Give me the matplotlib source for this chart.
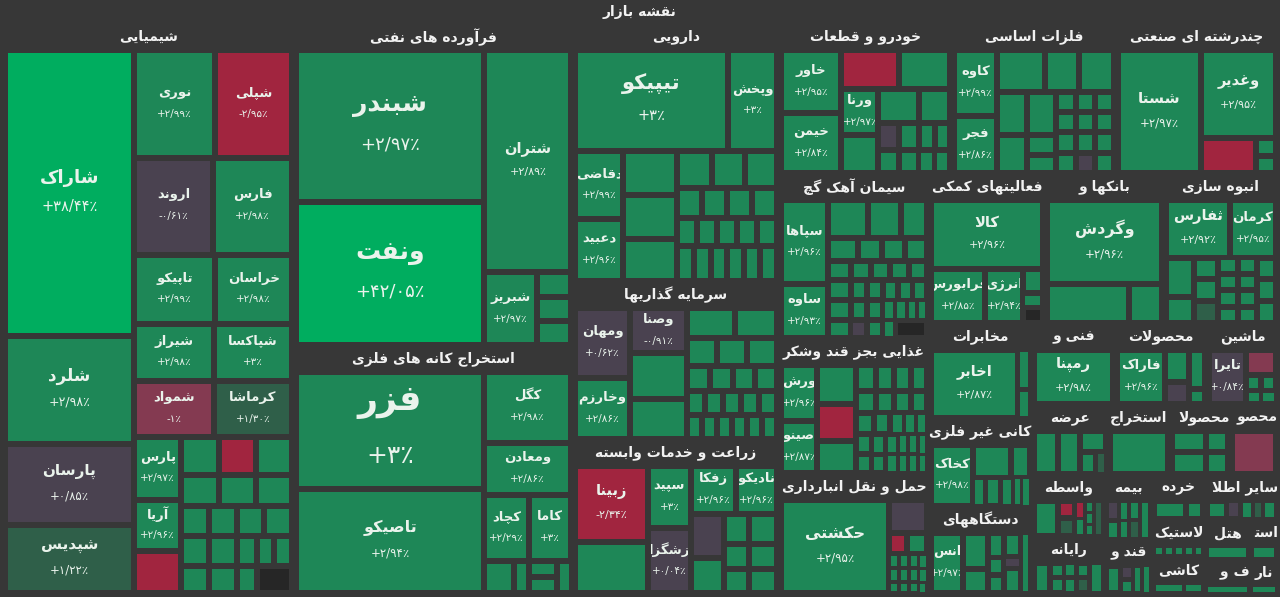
import matplotlib
matplotlib.use("Agg")
import matplotlib.pyplot as plt
from matplotlib.patches import Rectangle

BG = "#373737"
HDR = 26

# change values used for the small unlabelled tiles
G, R, P, D, M, X = 2.9, -2.9, 0.3, 1.2, -1.5, None


def H(*kids):
    return ("h", kids)


def V(*kids):
    return ("v", kids)


def S(title, size, body):
    return ("s", title, size, body)


def gh(*sizes):
    return H(*[(s, G) for s in sizes])


def gv(*sizes):
    return V(*[(s, G) for s in sizes])


# ---- data: (size, change %, symbol) ----
chem = S("شیمیایی", 1659, H(
    V((375, 38.44, "شاراک"), (141, 2.98, "شلرد"), (106, 0.85, "پارسان"), (89, 1.22, "شپدیس")),
    V(H((89, 2.99, "نوری"), (84, -2.95, "شپلی")),
      H((78, -0.61, "اروند"), (78, 2.98, "فارس")),
      H((57, 2.99, "تاپیکو"), (54, 2.98, "خراسان")),
      H((46, 2.98, "شیراز"), (45, 3, "شپاکسا")),
      H((46, -1, "شمواد"), (45, 1.30, "کرماشا")),
      H(V((30, 2.97, "پارس"), (25, 2.96, "آریا"), (20, R)),
        V(H((14.4, G), (14, R), (14, G)),
          gh(12, 11.5, 11.5),
          gh(8.4, 8.4, 8.4, 8.4),
          gh(8.4, 8.4, 6, 5.4, 5.4),
          H((7.6, G), (7.6, G), (5.4, G), (9.7, X)))))))

oil = S("فرآورده های نفتی", 898, H(
    V((288, 2.97, "شبندر"), (271, 42.05, "ونفت")),
    V((194, 2.89, "شتران"),
      H((38, 2.97, "شبریز"), gv(8.4, 8.4, 8.4)))))

mining = S("استخراج کانه های فلزی", 692, H(
    V((222, 3, "فزر"), (196, 2.94, "تاصیکو")),
    V((62, 2.98, "کگل"), (46, 2.86, "ومعادن"),
      H((30, 2.29, "کچاد"), (28, 3, "کاما")),
      H((9.6, G), (4.8, G), gv(4.5, 4.5), (4.5, G)))))

pharma = S("دارویی", 531, V(
    H((155, 3, "تیپیکو"), (49.5, 3, "وپخش")),
    H(V((33, 2.99, "دقاضی"), (30, 2.96, "دعبید")),
      gv(24, 24, 23),
      V(gh(13, 12.5, 12), gh(7.5, 7.5, 7.5, 7.5), gh(5.6, 5.6, 5.6, 5.6, 5.6),
        gh(5.8, 5.8, 5.8, 5.8, 5.8, 5.8)))))

invest = S("سرمایه گذاریها", 325, H(
    V((39, 0.62, "ومهان"), (33.5, 2.86, "وخارزم")),
    V((26, -0.91, "وصنا"), (26, G), (23, G)),
    V(gh(14.4, 12.6), gh(8.4, 8.4, 8.4), gh(6, 6, 5.7, 5.7),
      gh(4.3, 4.3, 4.3, 4.3, 4.3), gh(3.6, 3.6, 3.6, 3.6, 3.6, 3.6))))

agri = S("زراعت و خدمات وابسته", 317, H(
    V((56, -2.34, "زبینا"), (37, G)),
    V((27, 3, "سپید"), (28, 0.04, "زشگزا")),
    V(H((22, 2.96, "زفکا"), (20, 2.96, "نادیکو")),
      H(V((14.5, P), (11.6, G)), gv(7.5, 6.25, 6), gv(8.4, 7, 6.7)))))

auto = S("خودرو و قطعات", 259.5, H(
    V((38.4, 2.95, "خاور"), (36, 2.84, "خیمن")),
    V(H((22.2, R), (19.9, G)),
      H(V((17.4, 2.97, "ورنا"), (14, G)),
        V(gh(14, 10.9), H((5.4, P), (5.4, G), (4.3, G), (4, G)), gh(4.6, 4.6, 3.7, 3.5))))))

metals = S("فلزات اساسی", 246, H(
    V((28.8, 2.99, "کاوه"), (24.5, 2.86, "فجر")),
    V(gh(20.2, 14.3, 14.7),
      H(gv(13.2, 11.4), gv(12.8, 5.8, 5.2), gv(4.1, 4.1, 4.1, 4.1),
        V((3.9, G), (3.9, G), (3.9, G), (3.9, P)), gv(3.9, 3.9, 3.9, 3.9)))))

multi = S("چندرشته ای صنعتی", 243, H(
    (103, 2.97, "شستا"),
    V((66.8, 2.95, "وغدیر"), H((19.3, R), gv(3.5, 3.5)))))

cement = S("سیمان آهک گچ", 247.5, H(
    V((40, 2.96, "سپاها"), (25.4, 2.93, "ساوه")),
    V(gh(15.2, 12.5, 9.9), gh(6.9, 5.5, 5.3, 5.1), gh(4.6, 4, 3.8, 3.8, 3.6),
      gh(4.6, 3.2, 3.2, 3, 3, 2.8), gh(4.6, 3.2, 3.2, 2.4, 2.4, 2, 2),
      H((4.1, G), (2.9, P), (2.9, G), (2.2, G), (5.8, X)))))

food = S("غذایی بجز قند وشکر", 202.5, H(
    V((20.5, 2.96, "ورش"), (18.7, 2.87, "صینو")),
    V((15.2, G), (14.8, R), (12.5, G)),
    V(gh(5.2, 4.7, 4.4, 4.2), gh(4.4, 4, 3.7, 3.5), gh(4, 3.5, 3.1, 2.6, 2.4),
      gh(3.2, 2.8, 2.4, 2, 2, 1.8), gh(3, 2.7, 2.3, 1.9, 1.9, 1.7))))

transport = S("حمل و نقل انبارداری", 180, H(
    (101.5, 2.95, "حکشتی"),
    V((12.5, P), H((4, R), (4.4, G)), gh(1.4, 1.4, 1.4, 1.1), gh(1.4, 1.4, 1.4, 1.1),
      gh(1.1, 1.1, 1.1, 0.9))))

support = S("فعالیتهای کمکی", 174, V(
    (78.4, 2.96, "کالا"),
    H((29.2, 2.85, "فرابورس"), (20.5, 2.94, "انرژی"), V((4.8, G), (2.8, G), (3.2, X)))))

banks = S("بانکها و", 178.5, V((97.8, 2.96, "وگردش"), gh(32, 12.9)))

housing = S("انبوه سازی", 171, V(
    H((37.1, 2.92, "ثفارس"), (26.7, 2.95, "کرمان")),
    H(gv(11.2, 7.3), V((5.3, G), (5.3, G), (5.3, D)), gv(3.3, 3.3, 3.3, 3.3),
      gv(3.1, 3.1, 3.1, 3.1), gv(4.2, 4.2, 4.2))))

telecom = S("مخابرات", 97.9, H((60, 2.87, "اخابر"), gv(4.8, 3.5)))
nonmetal = S("کانی غیر فلزی", 90.6, H(
    (26, 2.98, "کخاک"), V(gh(12.5, 6.3), gh(3.5, 4.6, 3.5, 2.6, 2.3))))
devices = S("دستگاههای", 89.6, H(
    (19.5, 2.97, "انس"), gv(9.3, 6), gv(4, 2.9, 2.9), V((4.1, G), (2, P), (4.3, G)), gv(5.5)))

eng = S("فنی و", 67.2, (43.5, 2.98, "رمپنا"))
chemprod = S("محصولات", 74.5, H((26.4, 2.96, "فاراک"), V((7.9, G), (5.3, P)), gv(6.4, 2.4)))
machine = S("ماشین", 57.5, H((20.4, 0.84, "تایرا"), V((7.8, M), gh(2.25, 2.25), gh(2.1, 2.1))))

offer = S("عرضه", 53.2, H((10.6, G), (9.7, G), V((5.7, G), H((3.5, G), (2.2, D)))))
extract = S("استخراج", 43.4, (25.5, G))
prod2 = S("محصولات", 42, H(gv(7.5, 7.5), gv(4.8, 4.8)))
prod3 = S("محصولات", 33.6, (19.4, M))

broker = S("واسطه", 45.3, H((8.6, G), V((3.1, R), (3.1, D)), V((1.8, R), (1.8, G)),
                             gv(1.1, 1.1, 1.1), (3.2, D)))
computer = S("رایانه", 41.6, H((5, G), gv(2.1, 2.2), gv(1.8, 1.9), V((2.1, G), (2.2, D)), (4, G)))
insur = S("بیمه", 30.6, H(V((2.4, P), (2.3, G)), gv(2, 1.9), V((2.2, G), (2.1, D)), (3.9, G)))
sugar = S("قند و", 25.4, H((3.9, G), V((1.7, P), (1.7, G)), (2.5, G), (2.2, G)))
retail = S("خرده", 23.9, gh(6.1, 3.2))
tire = S("لاستیک", 19.6, gh(1.1, 1.1, 1.1, 1.1, 1.0))
ceramic = S("کاشی", 19.6, gh(3.3, 2.1))
other = S("سایر اطلاعات", 32.9, H((3.8, G), (2.7, P), (2.3, G), (1.9, D), (2.5, G)))
hotel = S("هتل", 18, (6, G))
oil2 = S("استخراج", 11.2, (3.4, G))
misc1 = S("ف و س", 15.3, (3.4, G))
misc2 = S("نار", 9.5, (1.9, G))

# ---- arrangement of the sectors ----
lower_right = H(
    V(telecom, nonmetal, devices),
    V(H(eng, chemprod, machine),
      H(offer, extract, prod2, prod3),
      H(V(broker, computer), V(insur, sugar), V(retail, tire, ceramic),
        V(other, H(V(hotel, misc1), V(oil2, misc2))))))
col4 = V(H(auto, metals, multi),
         H(V(cement, food, transport),
           V(H(support, banks, housing), lower_right)))
market = H(chem, V(oil, mining), V(pharma, invest, agri), col4)

LABEL_PT = {
    "شاراک": (13, 10.5), "شلرد": (12, 9), "شبندر": (18, 13), "ونفت": (18, 13),
    "فزر": (25, 18), "تیپیکو": (15, 10.5), "تاصیکو": (11.5, 8.5), "حکشتی": (11.5, 8.5),
    "وگردش": (11.5, 8.5), "شستا": (11, 8.5), "پارسان": (11, 8.5), "شپدیس": (11, 8.5),
    "زبینا": (10.5, 8), "شتران": (10.5, 8), "کالا": (10.5, 8), "اخابر": (10.5, 8),
    "رمپنا": (10.5, 8), "وغدیر": (10.5, 8), "ثفارس": (10.5, 8),
}

# ---- minimal Persian shaping (matplotlib draws glyphs left to right, unjoined) ----
_AR = {
    0x0621: (0xFE80, 1), 0x0622: (0xFE81, 2), 0x0623: (0xFE83, 2), 0x0624: (0xFE85, 2),
    0x0625: (0xFE87, 2), 0x0626: (0xFE89, 4), 0x0627: (0xFE8D, 2), 0x0628: (0xFE8F, 4),
    0x0629: (0xFE93, 2), 0x062A: (0xFE95, 4), 0x062B: (0xFE99, 4), 0x062C: (0xFE9D, 4),
    0x062D: (0xFEA1, 4), 0x062E: (0xFEA5, 4), 0x062F: (0xFEA9, 2), 0x0630: (0xFEAB, 2),
    0x0631: (0xFEAD, 2), 0x0632: (0xFEAF, 2), 0x0633: (0xFEB1, 4), 0x0634: (0xFEB5, 4),
    0x0635: (0xFEB9, 4), 0x0636: (0xFEBD, 4), 0x0637: (0xFEC1, 4), 0x0638: (0xFEC5, 4),
    0x0639: (0xFEC9, 4), 0x063A: (0xFECD, 4), 0x0641: (0xFED1, 4), 0x0642: (0xFED5, 4),
    0x0643: (0xFED9, 4), 0x0644: (0xFEDD, 4), 0x0645: (0xFEE1, 4), 0x0646: (0xFEE5, 4),
    0x0647: (0xFEE9, 4), 0x0648: (0xFEED, 2), 0x0649: (0xFEEF, 2), 0x064A: (0xFEF1, 4),
    0x067E: (0xFB56, 4), 0x0686: (0xFB7A, 4), 0x0698: (0xFB8A, 2), 0x06A9: (0xFB8E, 4),
    0x06AF: (0xFB92, 4), 0x06CC: (0xFBFC, 4),
}
_LAMALEF = {"ا": 0xFEFB, "آ": 0xFEF5, "أ": 0xFEF7, "إ": 0xFEF9}


def fa(s):
    out = []
    i, n = 0, len(s)
    while i < n:
        c = s[i]
        o = ord(c)
        if o not in _AR:
            out.append(c)
            i += 1
            continue
        base, k = _AR[o]
        prev = s[i - 1] if i > 0 else " "
        link_prev = ord(prev) in _AR and _AR[ord(prev)][1] == 4
        if c == "ل" and i + 1 < n and s[i + 1] in _LAMALEF:
            out.append(chr(_LAMALEF[s[i + 1]] + (1 if link_prev else 0)))
            i += 2
            continue
        nxt = s[i + 1] if i + 1 < n else " "
        link_next = k == 4 and ord(nxt) in _AR and _AR[ord(nxt)][1] > 1
        if k == 1:
            f = 0
        elif link_prev and link_next:
            f = 3
        elif link_prev:
            f = 1
        elif link_next:
            f = 2
        else:
            f = 0
        out.append(chr(base + f))
        i += 1
    return "".join(out).replace("\u200c", "")[::-1]


FA_DIGITS = str.maketrans("0123456789", "۰۱۲۳۴۵۶۷۸۹")


def pct(v):
    a = abs(v)
    s = f"{a:.0f}" if round(a, 2) == int(a) else f"{a:.2f}".replace(".", "/")
    return ("+" if v >= 0 else "-") + s.translate(FA_DIGITS) + "٪"


def tile_color(ch):
    if ch is None:
        return "#262626"
    if ch > 3.05:
        return "#00ad5f"
    if ch >= 2:
        return "#1e8757"
    if ch >= 1:
        return "#2f5f49"
    if ch > -1:
        return "#4a4250"
    if ch > -2:
        return "#843a51"
    return "#a1253f"


def weight(n):
    if n[0] in ("h", "v"):
        return sum(weight(k) for k in n[1])
    if n[0] == "s":
        return n[2]
    return n[0]


fig = plt.figure(figsize=(12.8, 5.97), dpi=100, facecolor=BG)
ax = fig.add_axes([0, 0, 1, 1])
ax.set_xlim(0, 1280)
ax.set_ylim(597, 0)
ax.axis("off")
ax.set_facecolor(BG)
renderer = fig.canvas.get_renderer()


def draw_tile(leaf, x0, y0, x1, y1):
    ch = leaf[1]
    name = leaf[2] if len(leaf) > 2 else ""
    w, h = x1 - x0, y1 - y0
    g = min(3, 0.18 * min(w, h))
    r = Rectangle((x0 + g, y0 + g), w - 2 * g, h - 2 * g, facecolor=tile_color(ch), edgecolor="none")
    ax.add_patch(r)
    if name:
        fn, fc = LABEL_PT.get(name, (9.5, 7.5))
        cx, cy = (x0 + x1) / 2, (y0 + y1) / 2
        k = (fn + fc) * 100 / 72
        t1 = ax.text(cx, cy - 0.48 * k, fa(name), fontsize=fn, fontweight="bold",
                     color="#eaf3ec", ha="center", va="center", clip_on=True)
        t2 = ax.text(cx, cy + 0.42 * k, pct(ch), fontsize=fc, color="#eaf3ec",
                     ha="center", va="center", clip_on=True)
        t1.set_clip_path(r)
        t2.set_clip_path(r)


def draw_header(title, x0, y0, x1, y1):
    # sector title; when too wide it is cut on the left like overflowing RTL text
    box = Rectangle((x0, y0), x1 - x0, y1 - y0, transform=ax.transData)
    vis = fa(title)
    t = ax.text((x0 + x1) / 2, y0 + HDR / 2, vis, fontsize=10, fontweight="bold",
                color="#f2f2f2", ha="center", va="center", clip_on=True)
    avail = x1 - x0
    if t.get_window_extent(renderer).width > avail:
        t.set_ha("right")
        t.set_x(x1)
        while len(vis) > 1 and t.get_window_extent(renderer).width > avail:
            vis = vis[1:]
            t.set_text(vis)
    t.set_clip_path(box)


def place(n, x0, y0, x1, y1):
    if n[0] == "s":
        draw_header(n[1], x0, y0, x1, y1)
        place(n[3], x0 + 2, y0 + HDR, x1 - 2, y1 - 1)
    elif n[0] in ("h", "v"):
        tot = sum(weight(k) for k in n[1])
        pos = x0 if n[0] == "h" else y0
        for k in n[1]:
            if n[0] == "h":
                step = (x1 - x0) * weight(k) / tot
                place(k, pos, y0, pos + step, y1)
            else:
                step = (y1 - y0) * weight(k) / tot
                place(k, x0, pos, x1, pos + step)
            pos += step
    else:
        draw_tile(n, x0, y0, x1, y1)


ax.text(640, 12, fa("نقشه بازار"), fontsize=10, fontweight="bold", color="#f2f2f2",
        ha="center", va="center")
place(market, 3, 24, 1278, 594)

fig.savefig("out.png", dpi=100, facecolor=BG)
